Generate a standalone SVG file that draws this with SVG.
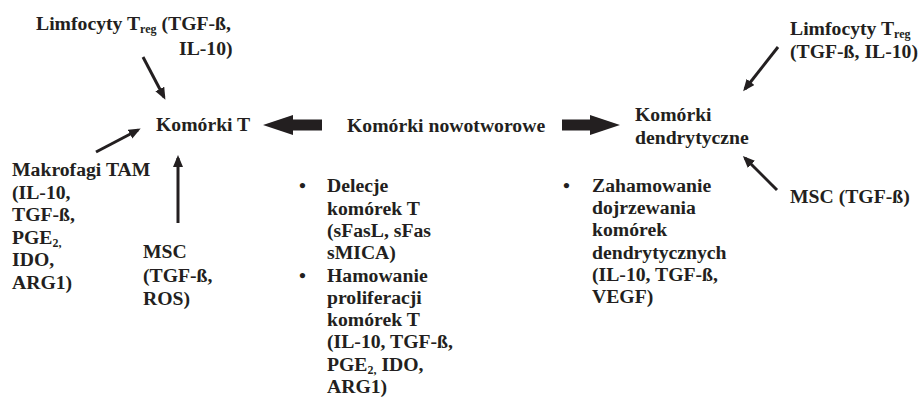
<svg xmlns="http://www.w3.org/2000/svg" width="918" height="403" viewBox="0 0 918 403">
<style>
.t{font-family:'Liberation Serif','DejaVu Serif',serif;font-weight:700;font-size:19.7px;fill:#231f20}
.sub{font-size:12px}
.thin{stroke:#231f20;stroke-width:3;fill:none;marker-end:url(#ah)}
.big{fill:#231f20}
</style>
<defs>
<marker id="ah" markerWidth="12" markerHeight="10" refX="9" refY="5" orient="auto" markerUnits="userSpaceOnUse">
<path d="M0,0 L12,5 L0,10 Z" fill="#231f20"/>
</marker>
</defs>
<g id="connectors">
<line class="thin" x1="143" y1="57" x2="164" y2="97"/>
<line class="thin" x1="96" y1="152" x2="138" y2="130"/>
<line class="thin" x1="178" y1="223" x2="178" y2="158"/>
<line class="thin" x1="778" y1="47" x2="745" y2="89"/>
<line class="thin" x1="777" y1="190" x2="745" y2="158"/>
<polygon class="big" points="263,125 293,115 293,119.5 322,119.5 322,130.5 293,130.5 293,135"/>
<polygon class="big" points="620,125 590,115 590,119.5 562,119.5 562,130.5 590,130.5 590,135"/>
</g>
<g class="t">
<g id="treg-left">
<text x="36" y="30">Limfocyty T<tspan class="sub" dy="3">reg</tspan><tspan dy="-3"> (TGF-ß,</tspan></text>
<text x="179" y="55">IL-10)</text>
</g>
<g id="komorki-t"><text x="156" y="131">Komórki T</text></g>
<g id="nowotworowe"><text x="347" y="132">Komórki nowotworowe</text></g>
<g id="dendrytyczne">
<text x="635" y="121">Komórki</text>
<text x="635" y="144">dendrytyczne</text>
</g>
<g id="treg-right">
<text x="790" y="35">Limfocyty T<tspan class="sub" dy="2.5">reg</tspan></text>
<text x="790" y="57.5">(TGF-ß, IL-10)</text>
</g>
<g id="msc-right"><text x="790" y="203">MSC (TGF-ß)</text></g>
<g id="makrofagi">
<text x="12" y="176">Makrofagi TAM</text>
<text x="12" y="198.5">(IL-10,</text>
<text x="12" y="221">TGF-ß,</text>
<text x="12" y="243.5">PGE<tspan class="sub" dy="3">2,</tspan></text>
<text x="12" y="266">IDO,</text>
<text x="12" y="288.5">ARG1)</text>
</g>
<g id="msc-left">
<text x="143" y="258">MSC</text>
<text x="143" y="282">(TGF-ß,</text>
<text x="143" y="305">ROS)</text>
</g>
<g id="bullets-t">
<text x="299" y="192.3">•</text>
<text x="327" y="192.3">Delecje</text>
<text x="327" y="214.6">komórek T</text>
<text x="327" y="236.9">(sFasL, sFas</text>
<text x="327" y="259.2">sMICA)</text>
<text x="299" y="281.5">•</text>
<text x="327" y="281.5">Hamowanie</text>
<text x="327" y="303.8">proliferacji</text>
<text x="327" y="326.1">komórek T</text>
<text x="327" y="348.4">(IL-10, TGF-ß,</text>
<text x="327" y="370.7">PGE<tspan class="sub" dy="3">2,</tspan><tspan dy="-3"> IDO,</tspan></text>
<text x="327" y="393">ARG1)</text>
</g>
<g id="bullets-dc">
<text x="563" y="192">•</text>
<text x="592" y="192">Zahamowanie</text>
<text x="592" y="214.2">dojrzewania</text>
<text x="592" y="236.4">komórek</text>
<text x="592" y="258.6">dendrytycznych</text>
<text x="592" y="280.8"> (IL-10, TGF-ß,</text>
<text x="592" y="303">VEGF)</text>
</g>
</g>
</svg>
